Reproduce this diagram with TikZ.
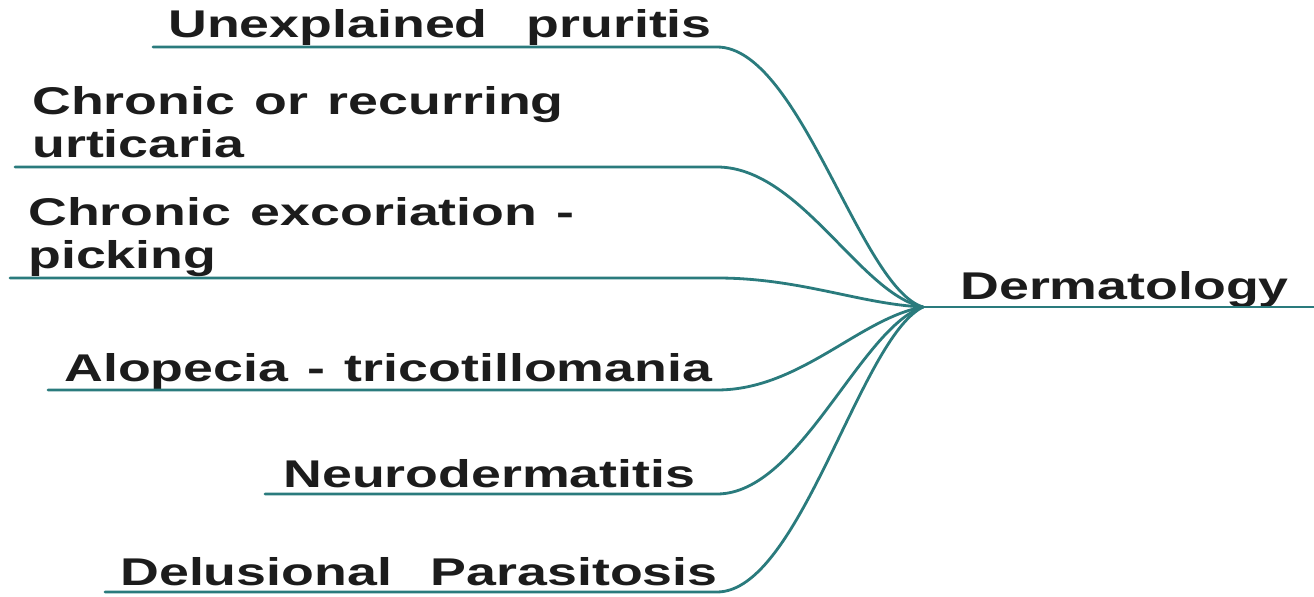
\documentclass[tikz,border=0pt]{standalone}
\usepackage{fontspec}
\usepackage{tikz}
\usetikzlibrary{positioning,calc}
\newfontfamily\lblfont[FakeStretch=1.39,WordSpace=1.3]{Liberation Sans}
\definecolor{dermteal}{HTML}{2A7B7D}
\definecolor{inkdark}{HTML}{1C1C1C}

\begin{document}
\begin{tikzpicture}[
  x=0.02cm, y=-0.02cm,
  lbl/.style={font=\lblfont\bfseries\fontsize{22}{24.4}\selectfont, text=inkdark,
              inner sep=0pt, anchor=base west, align=left},
  stem/.style={draw=dermteal, line width=1.6pt, line cap=round}
]
  \useasboundingbox (0,0) rectangle (1314,597);
  \coordinate (hub) at (923,307);
  \coordinate (dermend) at (1314,307);

  \node[lbl] (prur) at (168,38) {Unexplained\ \ pruritis};
  \node[lbl, anchor=north west] (urtic) at (32,86) {Chronic or recurring\\urticaria};
  \node[lbl, anchor=north west] (pick) at (28,197) {Chronic excoriation -\\picking};
  \node[lbl] (alop) at (64,382) {Alopecia - tricotillomania};
  \node[lbl] (neuro) at (283,487) {Neurodermatitis};
  \node[lbl] (delus) at (120,585) {Delusional\ \ Parasitosis};
  \node[lbl] (derm) at (960,300) {Dermatology};

  \coordinate (prurL) at (153,47);  \coordinate (prurR) at (717,47);
  \coordinate (urticL) at (15,167); \coordinate (urticR) at (717,167);
  \coordinate (pickL) at (10,278);  \coordinate (pickR) at (717,278);
  \coordinate (alopL) at (48,390);  \coordinate (alopR) at (717,390);
  \coordinate (neuroL) at (265,494); \coordinate (neuroR) at (717,494);
  \coordinate (delusL) at (105,592); \coordinate (delusR) at (717,592);

  \draw[stem] (prurL) -- (prurR) .. controls +(83,0) and (860,288) .. (hub);
  \draw[stem] (urticL) -- (urticR) .. controls +(83,0) and (860,294) .. (hub);
  \draw[stem] (pickL) -- (pickR) .. controls +(83,0) and (860,304) .. (hub);
  \draw[stem] (alopL) -- (alopR) .. controls +(83,0) and (860,318) .. (hub);
  \draw[stem] (neuroL) -- (neuroR) .. controls +(83,0) and (860,328) .. (hub);
  \draw[stem] (delusL) -- (delusR) .. controls +(83,0) and (860,338) .. (hub);
  \draw[stem] (hub) -- (dermend);
\end{tikzpicture}
\end{document}
